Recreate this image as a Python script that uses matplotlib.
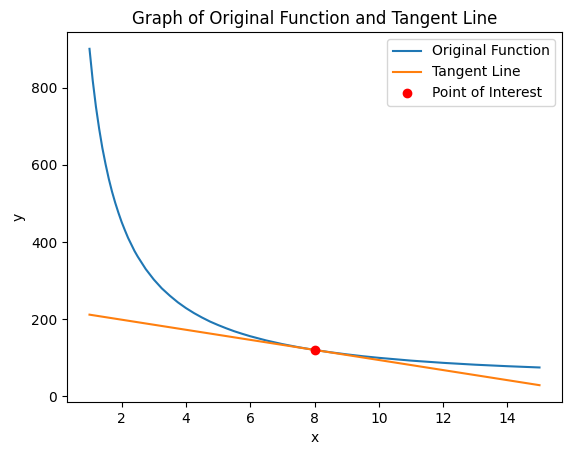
import matplotlib
matplotlib.use("Agg")
import matplotlib.pyplot as plt

# values
x_curve = [1.0, 1.1, 1.2, 1.3, 1.4, 1.5, 1.6, 1.7, 1.8, 1.9, 2.0,
           2.1, 2.2, 2.3, 2.4, 2.5, 2.75, 3.0, 3.25, 3.5, 3.75, 4.0,
           4.25, 4.5, 4.75, 5.0, 5.25, 5.5, 5.75, 6.0, 6.5, 7.0, 7.5,
           8.0, 8.5, 9.0, 9.5, 10.0, 11.0, 12.0, 13.0, 14.0, 15.0]
y_curve = [901, 819, 751, 694, 644, 602, 564, 531, 502, 476, 452,
           431, 411, 394, 377, 362.5, 330, 303, 280, 261, 243.8, 229,
           216, 204.5, 194, 185, 176.7, 169, 162.3, 156, 145, 135.6, 127.5,
           120.5, 114.4, 109, 104.2, 100, 92.8, 87, 82.2, 78.3, 75]

x_tangent = [1, 15]
y_tangent = [211.9, 29.1]

x_point = [8]
y_point = [120.5]

fig = plt.figure(figsize=(5.71, 4.55), dpi=100)
ax = fig.add_axes([67 / 571, 1 - 402 / 455, 495 / 571, 370 / 455])

ax.plot(x_curve, y_curve, label="Original Function")
ax.plot(x_tangent, y_tangent, label="Tangent Line")
ax.plot(x_point, y_point, "ro", label="Point of Interest")

ax.set_xlabel("x")
ax.set_ylabel("y")
ax.set_title("Graph of Original Function and Tangent Line")
ax.legend()

fig.savefig("out.png", dpi=100)
